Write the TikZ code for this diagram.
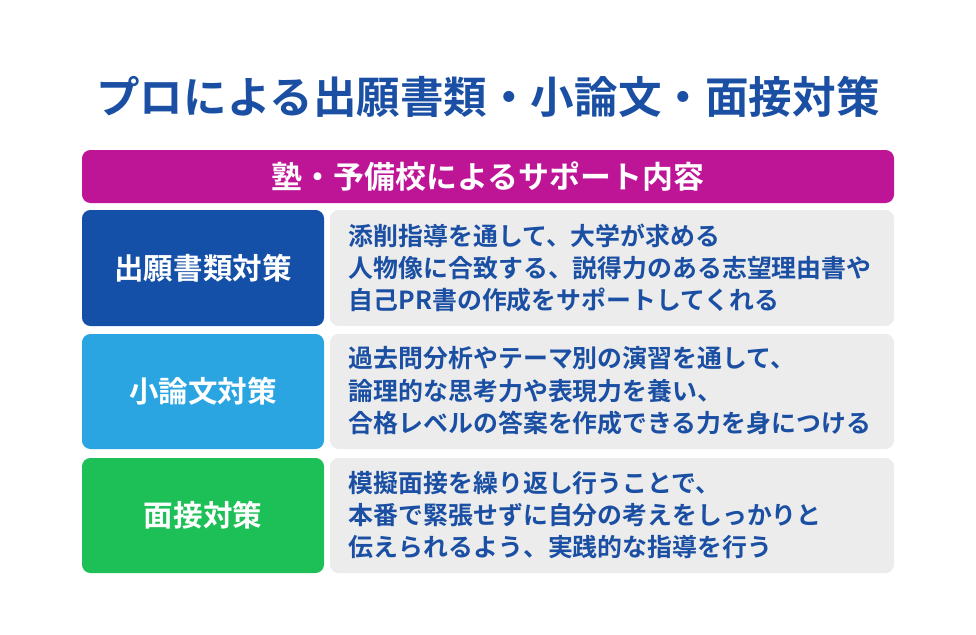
\documentclass[tikz,border=0pt]{standalone}
\usepackage{fontspec}
\setmainfont{Noto Sans CJK JP}[BoldFont=* Bold]
\definecolor{titleblue}{HTML}{1A4FA3}
\definecolor{headmag}{HTML}{BE1496}
\definecolor{darkblue}{HTML}{1450A8}
\definecolor{lightblue}{HTML}{2BA5E1}
\definecolor{greenbox}{HTML}{1DC056}
\definecolor{panelgray}{HTML}{ECECEC}
\tikzset{
  labelbox/.style={rounded corners=6pt,inner sep=0pt},
  labeltext/.style={text=white,font=\fontsize{21}{24}\selectfont\bfseries},
  bodytext/.style={text=titleblue,font=\fontsize{17.7}{23}\selectfont\bfseries,align=left,anchor=west}
}
\begin{document}
\begin{tikzpicture}[x=0.25mm,y=-0.25mm]
\useasboundingbox (0,0) rectangle (976,635);
\node (title) at (488,97) [text=titleblue,font=\fontsize{31}{36}\selectfont\bfseries] {プロによる出願書類・小論文・面接対策};
% header
\fill[headmag,labelbox] (82,150) rectangle (894,203);
\node (head) at (488,177) [text=white,font=\fontsize{22}{26}\selectfont\bfseries] {塾・予備校によるサポート内容};
% rows
\fill[darkblue,labelbox] (82,210) rectangle (324,326);
\fill[panelgray,labelbox] (330,210) rectangle (894,326);
\node (l1) at (203,268) [labeltext] {出願書類対策};
\node (r1) at (344,268) [bodytext] {添削指導を通して、大学が求める\\人物像に合致する、説得力のある志望理由書や\\自己PR書の作成をサポートしてくれる};
\fill[lightblue,labelbox] (82,334) rectangle (324,449);
\fill[panelgray,labelbox] (330,334) rectangle (894,449);
\node (l2) at (203,391) [labeltext] {小論文対策};
\node (r2) at (344,391) [bodytext] {過去問分析やテーマ別の演習を通して、\\論理的な思考力や表現力を養い、\\合格レベルの答案を作成できる力を身につける};
\fill[greenbox,labelbox] (82,458) rectangle (324,573);
\fill[panelgray,labelbox] (330,458) rectangle (894,573);
\node (l3) at (203,515) [labeltext] {面接対策};
\node (r3) at (344,515) [bodytext] {模擬面接を繰り返し行うことで、\\本番で緊張せずに自分の考えをしっかりと\\伝えられるよう、実践的な指導を行う};
\end{tikzpicture}
\end{document}
